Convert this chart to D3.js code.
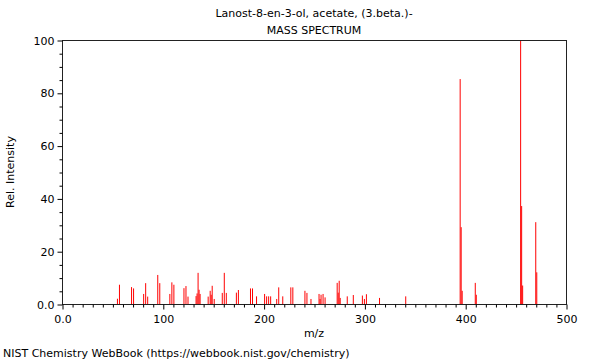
<!DOCTYPE html>
<html>
<head>
<meta charset="utf-8">
<script src="https://cdn.jsdelivr.net/npm/d3@7"></script>
<style>
  html, body { margin: 0; padding: 0; background: #fff; }
  svg { display: block; }
  text { font-family: "DejaVu Sans", sans-serif; fill: #000; }
</style>
</head>
<body>
<svg id="chart" width="600" height="360"></svg>
<script>
const titleLines = ["Lanost-8-en-3-ol, acetate, (3.beta.)-", "MASS SPECTRUM"];
const xLabel = "m/z";
const yLabel = "Rel. Intensity";
const footer = "NIST Chemistry WebBook (https://webbook.nist.gov/chemistry)";

const mz = [55,57,69,71,81,83,85,95,97,107,109,111,121,123,125,133,134,135,136,137,
  145,147,148,149,151,159,161,163,173,175,187,189,193,201,203,205,207,213,215,219,
  227,229,241,243,247,255,256,257,259,261,273,274,275,276,283,289,298,300,302,315,
  341,395,396,397,410,411,455,456,457,470,471];
const intensity = [2.0,7.3,6.4,5.9,3.8,7.9,2.8,11.0,7.9,3.8,8.2,7.3,6.0,6.8,2.8,3.0,4.0,11.8,5.4,3.8,
  2.8,5.0,3.5,6.9,1.9,4.2,11.8,4.2,4.3,5.3,5.9,5.9,2.9,3.8,2.9,2.9,2.9,1.9,6.3,2.9,
  6.3,6.3,5.0,4.2,1.9,3.8,1.9,3.5,3.8,2.5,8.0,4.3,8.8,2.3,2.9,3.4,3.2,1.9,3.7,2.3,
  2.9,85.2,29.1,5.0,8.0,3.5,100,37.1,7.0,31.0,12.0];

const xMajorTicks = [0,100,200,300,400,500];
const xTickLabels = ["0.0","100","200","300","400","500"];
const yMajorTicks = [0,20,40,60,80,100];
const yTickLabels = ["0.0","20","40","60","80","100"];

const svg = d3.select("#chart");
const mLeft = 62, mRight = 566, mTop = 40, mBottom = 304;

const x = d3.scaleLinear().domain([0, 500]).range([mLeft, mRight]);
const y = d3.scaleLinear().domain([0, 100]).range([mBottom, mTop]);

svg.append("rect").attr("width", 600).attr("height", 360).attr("fill", "#fff");

// bars
svg.append("g").selectAll("line").data(mz).join("line")
  .attr("x1", (d) => x(d)).attr("x2", (d) => x(d))
  .attr("y1", y(0)).attr("y2", (d, i) => y(intensity[i]))
  .attr("stroke", "#ff0000").attr("stroke-width", 1);

// frame
svg.append("rect")
  .attr("x", mLeft + 0.5).attr("y", mTop + 0.5)
  .attr("width", mRight - mLeft).attr("height", mBottom - mTop)
  .attr("fill", "none").attr("stroke", "#222").attr("stroke-width", 1);

// x axis
const xAxis = d3.axisBottom(x)
  .tickValues(xMajorTicks)
  .tickFormat((d, i) => xTickLabels[i])
  .tickSize(5).tickPadding(6);
const gx = svg.append("g").attr("transform", `translate(0.5,${mBottom + 0.5})`).call(xAxis);
gx.select(".domain").remove();
gx.selectAll("text").style("font-size", "11px").style("font-family", "DejaVu Sans");

const xMinor = d3.range(0, 501, 10).filter(v => v % 100 !== 0);
svg.append("g").attr("transform", `translate(0.5,${mBottom + 0.5})`)
  .call(d3.axisBottom(x).tickValues(xMinor).tickSize(3).tickFormat(""))
  .select(".domain").remove();

// y axis
const yAxis = d3.axisLeft(y)
  .tickValues(yMajorTicks)
  .tickFormat((d, i) => yTickLabels[i])
  .tickSize(5).tickPadding(3);
const gy = svg.append("g").attr("transform", `translate(${mLeft + 0.5},0.5)`).call(yAxis);
gy.select(".domain").remove();
gy.selectAll("text").style("font-size", "11px").style("font-family", "DejaVu Sans");

const yMinor = d3.range(0, 101, 5).filter(v => v % 20 !== 0);
svg.append("g").attr("transform", `translate(${mLeft + 0.5},0.5)`)
  .call(d3.axisLeft(y).tickValues(yMinor).tickSize(3).tickFormat(""))
  .select(".domain").remove();

// titles
svg.append("text").attr("x", (mLeft + mRight) / 2).attr("y", 17)
  .attr("text-anchor", "middle").style("font-size", "11px").text(titleLines[0]);
svg.append("text").attr("x", (mLeft + mRight) / 2).attr("y", 34)
  .attr("text-anchor", "middle").style("font-size", "11px").text(titleLines[1]);

svg.append("text").attr("x", (mLeft + mRight) / 2).attr("y", 337)
  .attr("text-anchor", "middle").style("font-size", "11px").text(xLabel);

svg.append("text")
  .attr("transform", `translate(14,${(mTop + mBottom) / 2}) rotate(-90)`)
  .attr("text-anchor", "middle").style("font-size", "11px").text(yLabel);

svg.append("text").attr("x", 3).attr("y", 357)
  .style("font-size", "11px").text(footer);
</script>
</body>
</html>
